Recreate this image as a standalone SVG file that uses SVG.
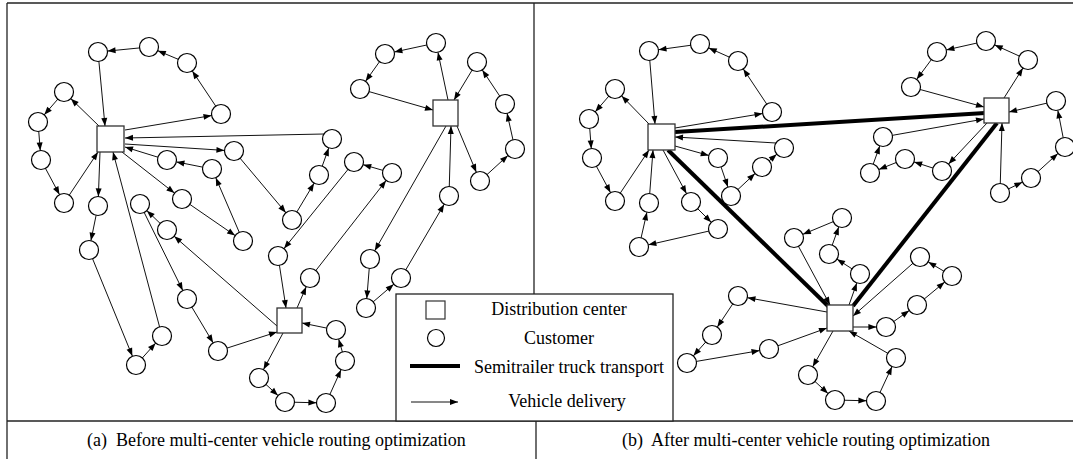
<svg xmlns="http://www.w3.org/2000/svg" width="1073" height="459" viewBox="0 0 1073 459">
<defs>
<marker id="ah" markerUnits="userSpaceOnUse" markerWidth="10" markerHeight="8" refX="8" refY="3" orient="auto" overflow="visible"><path d="M0,0 L8,3 L0,6 Z" fill="#000"/></marker>
<marker id="ac" markerUnits="userSpaceOnUse" markerWidth="10" markerHeight="8" refX="17.6" refY="3" orient="auto" overflow="visible"><path d="M0,0 L8,3 L0,6 Z" fill="#000"/></marker>
</defs>
<style>
.frame line{stroke:#222;stroke-width:1.3}
.n circle{fill:#fff;stroke:#000;stroke-width:1.2}
.dep rect{fill:#fff;stroke:#333;stroke-width:1.3}
.c line{stroke:#111;stroke-width:1}
.c line.t{marker-end:url(#ac)}
.c line.d{marker-end:url(#ah)}
.thick line{stroke:#000;stroke-width:4}
text{font-family:"Liberation Serif","Times New Roman",serif;font-size:18px;fill:#000}
</style>
<rect width="1073" height="459" fill="#fff"/>
<g class="frame">
<line x1="7" y1="3" x2="1073" y2="3"/>
<line x1="7" y1="3" x2="7" y2="459"/>
<line x1="7" y1="421" x2="1073" y2="421"/>
<line x1="534" y1="3" x2="534" y2="294"/>
<line x1="536" y1="421" x2="536" y2="459"/>
</g>
<g id="connectors" class="c">
<line class="t" x1="125" y1="130" x2="221" y2="114"/>
<line class="t" x1="221" y1="114" x2="187" y2="63"/>
<line class="t" x1="187" y1="63" x2="149" y2="47"/>
<line class="t" x1="149" y1="47" x2="98" y2="52"/>
<line class="d" x1="98" y1="52" x2="105" y2="126"/>
<line class="t" x1="100" y1="127" x2="64" y2="92"/>
<line class="t" x1="64" y1="92" x2="38" y2="122"/>
<line class="t" x1="38" y1="122" x2="41" y2="160"/>
<line class="t" x1="41" y1="160" x2="64" y2="203"/>
<line class="d" x1="64" y1="203" x2="98" y2="152"/>
<line class="t" x1="100" y1="152" x2="98" y2="206"/>
<line class="t" x1="98" y1="206" x2="89" y2="250"/>
<line class="t" x1="89" y1="250" x2="136" y2="365"/>
<line class="t" x1="136" y1="365" x2="162" y2="336"/>
<line class="d" x1="162" y1="336" x2="113" y2="152"/>
<line class="t" x1="125" y1="144" x2="234" y2="151"/>
<line class="t" x1="234" y1="151" x2="292" y2="220"/>
<line class="t" x1="292" y1="220" x2="319" y2="175"/>
<line class="t" x1="319" y1="175" x2="332" y2="139"/>
<line class="d" x1="324" y1="134" x2="125" y2="138"/>
<line class="t" x1="122" y1="152" x2="182" y2="199"/>
<line class="t" x1="182" y1="199" x2="243" y2="241"/>
<line class="t" x1="243" y1="241" x2="212" y2="169"/>
<line class="t" x1="212" y1="169" x2="167" y2="160"/>
<line class="d" x1="167" y1="160" x2="125" y2="147"/>
<line class="t" x1="277" y1="326" x2="167" y2="230"/>
<line class="t" x1="167" y1="230" x2="140" y2="204"/>
<line class="t" x1="140" y1="204" x2="187" y2="299"/>
<line class="t" x1="187" y1="299" x2="218" y2="351"/>
<line class="d" x1="218" y1="351" x2="277" y2="332"/>
<line class="t" x1="448" y1="100" x2="436" y2="43"/>
<line class="t" x1="436" y1="43" x2="385" y2="54"/>
<line class="t" x1="385" y1="54" x2="360" y2="89"/>
<line class="d" x1="360" y1="89" x2="433" y2="110"/>
<line class="t" x1="457" y1="126" x2="480" y2="181"/>
<line class="t" x1="480" y1="181" x2="515" y2="149"/>
<line class="t" x1="515" y1="149" x2="505" y2="104"/>
<line class="t" x1="505" y1="104" x2="477" y2="62"/>
<line class="d" x1="477" y1="62" x2="454" y2="100"/>
<line class="t" x1="446" y1="126" x2="370" y2="259"/>
<line class="t" x1="370" y1="259" x2="366" y2="308"/>
<line class="t" x1="366" y1="308" x2="401" y2="278"/>
<line class="t" x1="401" y1="278" x2="449" y2="196"/>
<line class="d" x1="449" y1="196" x2="451" y2="126"/>
<line class="t" x1="283" y1="333" x2="259" y2="378"/>
<line class="t" x1="259" y1="378" x2="285" y2="402"/>
<line class="t" x1="285" y1="402" x2="326" y2="403"/>
<line class="t" x1="326" y1="403" x2="345" y2="361"/>
<line class="t" x1="345" y1="361" x2="336" y2="330"/>
<line class="d" x1="336" y1="330" x2="302" y2="323"/>
<line class="t" x1="297" y1="308" x2="310" y2="278"/>
<line class="t" x1="310" y1="278" x2="392" y2="173"/>
<line class="t" x1="392" y1="173" x2="354" y2="162"/>
<line class="t" x1="354" y1="162" x2="278" y2="256"/>
<line class="d" x1="278" y1="256" x2="286" y2="308"/>
<line class="t" x1="675" y1="128" x2="772" y2="112"/>
<line class="t" x1="772" y1="112" x2="738" y2="61"/>
<line class="t" x1="738" y1="61" x2="700" y2="44"/>
<line class="t" x1="700" y1="44" x2="649" y2="51"/>
<line class="d" x1="649" y1="51" x2="655" y2="124"/>
<line class="t" x1="649" y1="124" x2="615" y2="89"/>
<line class="t" x1="615" y1="89" x2="589" y2="119"/>
<line class="t" x1="589" y1="119" x2="592" y2="158"/>
<line class="t" x1="592" y1="158" x2="615" y2="201"/>
<line class="d" x1="615" y1="201" x2="649" y2="150"/>
<line class="t" x1="663" y1="150" x2="691" y2="202"/>
<line class="t" x1="691" y1="202" x2="718" y2="229"/>
<line class="t" x1="718" y1="229" x2="639" y2="247"/>
<line class="t" x1="639" y1="247" x2="649" y2="203"/>
<line class="d" x1="649" y1="203" x2="653" y2="150"/>
<line class="t" x1="675" y1="146" x2="718" y2="158"/>
<line class="t" x1="718" y1="158" x2="731" y2="196"/>
<line class="t" x1="731" y1="196" x2="762" y2="167"/>
<line class="t" x1="762" y1="167" x2="784" y2="148"/>
<line class="d" x1="776" y1="143" x2="675" y2="137"/>
<line class="t" x1="1004" y1="98" x2="1028" y2="60"/>
<line class="t" x1="1028" y1="60" x2="986" y2="41"/>
<line class="t" x1="986" y1="41" x2="937" y2="52"/>
<line class="t" x1="937" y1="52" x2="911" y2="87"/>
<line class="d" x1="911" y1="87" x2="984" y2="107"/>
<line class="d" x1="1000" y1="193" x2="1002" y2="123"/>
<line class="t" x1="1000" y1="193" x2="1031" y2="178"/>
<line class="t" x1="1031" y1="178" x2="1065" y2="147"/>
<line class="t" x1="1065" y1="147" x2="1056" y2="101"/>
<line class="d" x1="1056" y1="101" x2="1009" y2="112"/>
<line class="t" x1="987" y1="123" x2="942" y2="171"/>
<line class="t" x1="942" y1="171" x2="905" y2="159"/>
<line class="t" x1="905" y1="159" x2="870" y2="173"/>
<line class="t" x1="870" y1="173" x2="883" y2="137"/>
<line class="d" x1="883" y1="137" x2="984" y2="119"/>
<line class="t" x1="849" y1="305" x2="860" y2="274"/>
<line class="t" x1="860" y1="274" x2="829" y2="254"/>
<line class="t" x1="829" y1="254" x2="842" y2="218"/>
<line class="t" x1="842" y1="218" x2="794" y2="238"/>
<line class="d" x1="794" y1="238" x2="830" y2="305"/>
<line class="t" x1="853" y1="327" x2="886" y2="327"/>
<line class="t" x1="886" y1="327" x2="917" y2="305"/>
<line class="t" x1="917" y1="305" x2="952" y2="276"/>
<line class="t" x1="952" y1="276" x2="920" y2="257"/>
<line class="d" x1="920" y1="257" x2="853" y2="316"/>
<line class="t" x1="833" y1="331" x2="808" y2="375"/>
<line class="t" x1="808" y1="375" x2="835" y2="400"/>
<line class="t" x1="835" y1="400" x2="876" y2="401"/>
<line class="t" x1="876" y1="401" x2="896" y2="358"/>
<line class="d" x1="896" y1="358" x2="849" y2="331"/>
<line class="t" x1="827" y1="312" x2="738" y2="296"/>
<line class="t" x1="738" y1="296" x2="712" y2="335"/>
<line class="t" x1="712" y1="335" x2="687" y2="363"/>
<line class="t" x1="687" y1="363" x2="769" y2="349"/>
<line class="d" x1="769" y1="349" x2="827" y2="328"/>
</g>
<g id="trucks" class="thick">
<line x1="675" y1="132" x2="985" y2="113"/>
<line x1="668" y1="150" x2="829" y2="307"/>
<line x1="997" y1="123" x2="853" y2="306"/>
</g>
<g class="dep">
<g id="D1"><rect x="97" y="126" width="27" height="26"/></g>
<g id="D2"><rect x="433" y="100" width="25" height="26"/></g>
<g id="D3"><rect x="277" y="308" width="25" height="25"/></g>
<g id="DA"><rect x="648" y="124" width="27" height="26"/></g>
<g id="DB"><rect x="984" y="98" width="25" height="25"/></g>
<g id="DC"><rect x="827" y="305" width="26" height="26"/></g>
</g>
<g class="n">
<g id="L1"><circle cx="98" cy="52" r="9.5"/></g>
<g id="L2"><circle cx="149" cy="47" r="9.5"/></g>
<g id="L3"><circle cx="187" cy="63" r="9.5"/></g>
<g id="L4"><circle cx="221" cy="114" r="9.5"/></g>
<g id="L5"><circle cx="64" cy="92" r="9.5"/></g>
<g id="L6"><circle cx="38" cy="122" r="9.5"/></g>
<g id="L7"><circle cx="41" cy="160" r="9.5"/></g>
<g id="L8"><circle cx="64" cy="203" r="9.5"/></g>
<g id="L9"><circle cx="98" cy="206" r="9.5"/></g>
<g id="L10"><circle cx="89" cy="250" r="9.5"/></g>
<g id="L11"><circle cx="136" cy="365" r="9.5"/></g>
<g id="L12"><circle cx="162" cy="336" r="9.5"/></g>
<g id="L13"><circle cx="234" cy="151" r="9.5"/></g>
<g id="L14"><circle cx="292" cy="220" r="9.5"/></g>
<g id="L15"><circle cx="319" cy="175" r="9.5"/></g>
<g id="L16"><circle cx="332" cy="139" r="9.5"/></g>
<g id="L17"><circle cx="182" cy="199" r="9.5"/></g>
<g id="L18"><circle cx="243" cy="241" r="9.5"/></g>
<g id="L19"><circle cx="212" cy="169" r="9.5"/></g>
<g id="L20"><circle cx="167" cy="160" r="9.5"/></g>
<g id="L21"><circle cx="167" cy="230" r="9.5"/></g>
<g id="L22"><circle cx="140" cy="204" r="9.5"/></g>
<g id="L23"><circle cx="187" cy="299" r="9.5"/></g>
<g id="L24"><circle cx="218" cy="351" r="9.5"/></g>
<g id="L25"><circle cx="436" cy="43" r="9.5"/></g>
<g id="L26"><circle cx="385" cy="54" r="9.5"/></g>
<g id="L27"><circle cx="360" cy="89" r="9.5"/></g>
<g id="L28"><circle cx="480" cy="181" r="9.5"/></g>
<g id="L29"><circle cx="515" cy="149" r="9.5"/></g>
<g id="L30"><circle cx="505" cy="104" r="9.5"/></g>
<g id="L31"><circle cx="477" cy="62" r="9.5"/></g>
<g id="L32"><circle cx="370" cy="259" r="9.5"/></g>
<g id="L33"><circle cx="366" cy="308" r="9.5"/></g>
<g id="L34"><circle cx="401" cy="278" r="9.5"/></g>
<g id="L35"><circle cx="449" cy="196" r="9.5"/></g>
<g id="L36"><circle cx="259" cy="378" r="9.5"/></g>
<g id="L37"><circle cx="285" cy="402" r="9.5"/></g>
<g id="L38"><circle cx="326" cy="403" r="9.5"/></g>
<g id="L39"><circle cx="345" cy="361" r="9.5"/></g>
<g id="L40"><circle cx="336" cy="330" r="9.5"/></g>
<g id="L41"><circle cx="310" cy="278" r="9.5"/></g>
<g id="L42"><circle cx="392" cy="173" r="9.5"/></g>
<g id="L43"><circle cx="354" cy="162" r="9.5"/></g>
<g id="L44"><circle cx="278" cy="256" r="9.5"/></g>
<g id="R1"><circle cx="649" cy="51" r="9.5"/></g>
<g id="R2"><circle cx="700" cy="44" r="9.5"/></g>
<g id="R3"><circle cx="738" cy="61" r="9.5"/></g>
<g id="R4"><circle cx="772" cy="112" r="9.5"/></g>
<g id="R5"><circle cx="615" cy="89" r="9.5"/></g>
<g id="R6"><circle cx="589" cy="119" r="9.5"/></g>
<g id="R7"><circle cx="592" cy="158" r="9.5"/></g>
<g id="R8"><circle cx="615" cy="201" r="9.5"/></g>
<g id="R9"><circle cx="649" cy="203" r="9.5"/></g>
<g id="R10"><circle cx="639" cy="247" r="9.5"/></g>
<g id="R11"><circle cx="718" cy="229" r="9.5"/></g>
<g id="R12"><circle cx="691" cy="202" r="9.5"/></g>
<g id="R13"><circle cx="718" cy="158" r="9.5"/></g>
<g id="R14"><circle cx="731" cy="196" r="9.5"/></g>
<g id="R15"><circle cx="762" cy="167" r="9.5"/></g>
<g id="R16"><circle cx="784" cy="148" r="9.5"/></g>
<g id="R17"><circle cx="937" cy="52" r="9.5"/></g>
<g id="R18"><circle cx="986" cy="41" r="9.5"/></g>
<g id="R19"><circle cx="1028" cy="60" r="9.5"/></g>
<g id="R20"><circle cx="911" cy="87" r="9.5"/></g>
<g id="R21"><circle cx="1056" cy="101" r="9.5"/></g>
<g id="R22"><circle cx="1065" cy="147" r="9.5"/></g>
<g id="R23"><circle cx="1031" cy="178" r="9.5"/></g>
<g id="R24"><circle cx="1000" cy="193" r="9.5"/></g>
<g id="R25"><circle cx="883" cy="137" r="9.5"/></g>
<g id="R26"><circle cx="870" cy="173" r="9.5"/></g>
<g id="R27"><circle cx="905" cy="159" r="9.5"/></g>
<g id="R28"><circle cx="942" cy="171" r="9.5"/></g>
<g id="R29"><circle cx="842" cy="218" r="9.5"/></g>
<g id="R30"><circle cx="794" cy="238" r="9.5"/></g>
<g id="R31"><circle cx="829" cy="254" r="9.5"/></g>
<g id="R32"><circle cx="860" cy="274" r="9.5"/></g>
<g id="R33"><circle cx="920" cy="257" r="9.5"/></g>
<g id="R34"><circle cx="952" cy="276" r="9.5"/></g>
<g id="R35"><circle cx="917" cy="305" r="9.5"/></g>
<g id="R36"><circle cx="886" cy="327" r="9.5"/></g>
<g id="R37"><circle cx="896" cy="358" r="9.5"/></g>
<g id="R38"><circle cx="876" cy="401" r="9.5"/></g>
<g id="R39"><circle cx="835" cy="400" r="9.5"/></g>
<g id="R40"><circle cx="808" cy="375" r="9.5"/></g>
<g id="R41"><circle cx="738" cy="296" r="9.5"/></g>
<g id="R42"><circle cx="712" cy="335" r="9.5"/></g>
<g id="R43"><circle cx="687" cy="363" r="9.5"/></g>
<g id="R44"><circle cx="769" cy="349" r="9.5"/></g>
</g>
<g id="legend">
<rect x="396" y="294" width="277" height="127" fill="#fff" stroke="#222" stroke-width="1.3"/>
<rect x="426" y="301" width="19" height="18" fill="#fff" stroke="#333" stroke-width="1.2"/>
<circle cx="436" cy="338" r="8.5" fill="#fff" stroke="#000" stroke-width="1.2"/>
<line x1="410" y1="366" x2="460" y2="366" stroke="#000" stroke-width="4"/>
<line x1="411" y1="402" x2="458" y2="402" stroke="#111" stroke-width="1" marker-end="url(#ah)"/>
<text x="559" y="315" text-anchor="middle">Distribution center</text>
<text x="559" y="344" text-anchor="middle">Customer</text>
<text x="569" y="373" text-anchor="middle">Semitrailer truck transport</text>
<text x="567" y="407" text-anchor="middle">Vehicle delivery</text>
</g>
<g id="captions">
<text x="87" y="446" xml:space="preserve">(a)  Before multi-center vehicle routing optimization</text>
<text x="622" y="446" xml:space="preserve">(b)  After multi-center vehicle routing optimization</text>
</g>
</svg>
